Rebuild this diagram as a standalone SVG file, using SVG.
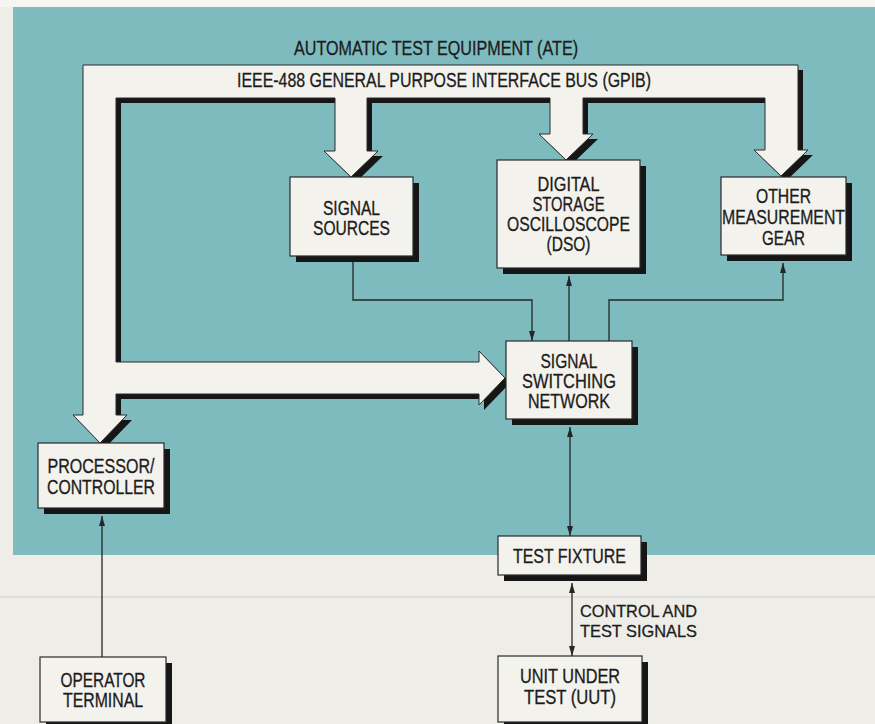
<svg xmlns="http://www.w3.org/2000/svg" width="875" height="724" viewBox="0 0 875 724">
<defs>
<style>
.page{fill:#efede8}
.teal{fill:#7ebbbf}
.shadow{fill:#161616}
.box{fill:#f3f2ed;stroke:#2a2a2a;stroke-width:1.2}
.bus{fill:#f3f2ed;stroke:#2a2a2a;stroke-width:1}
.t{font-family:"Liberation Sans Narrow","Liberation Sans",Arial,sans-serif;font-size:19.5px;fill:#1c1c1c;stroke:#1c1c1c;stroke-width:0.3;text-anchor:middle}
.big{font-size:20.5px}
.lbl{text-anchor:start;font-size:17px}
.wire{fill:none;stroke:#262626;stroke-width:1.3}
.rule{stroke:#d0cec9;stroke-width:1.2}
</style>
<marker id="ah" viewBox="0 0 10 6" refX="10" refY="3" markerWidth="10" markerHeight="6" markerUnits="userSpaceOnUse" orient="auto-start-reverse">
<path d="M0,0 L10,3 L0,6 z" fill="#262626"/>
</marker>
<path id="busShape" d="M83,65 H798 V150 H808 L781,176 L754,150 H765 V98 H583 V134 H593 L566,160 L539,134 H550 V98 H367 V151 H378 L351,177 L324,151 H335 V98 H116 V362 H479 V351 L505,378 L479,405 V394 H116 V415 H127 L100,443 L73,415 H83 Z"/>
</defs>

<rect class="page" x="0" y="0" width="875" height="724"/>
<rect x="0" y="0" width="875" height="7" fill="#f6f5f2"/>
<rect class="teal" x="13" y="7" width="862" height="548"/>
<line class="rule" x1="0" y1="597" x2="875" y2="597"/>

<g id="title">
<text class="t big" x="436" y="55" textLength="284" lengthAdjust="spacingAndGlyphs">AUTOMATIC TEST EQUIPMENT (ATE)</text>
</g>

<g id="connectors">
<g id="gpib-bus">
<use href="#busShape" class="shadow" transform="translate(5,5)"/>
<use href="#busShape" class="bus"/>
<text class="t big" x="444" y="87" textLength="414" lengthAdjust="spacingAndGlyphs">IEEE-488 GENERAL PURPOSE INTERFACE BUS (GPIB)</text>
</g>
<path class="wire" d="M353,262 V300 H532 V341" marker-end="url(#ah)"/>
<path class="wire" d="M569,341 V276" marker-end="url(#ah)"/>
<path class="wire" d="M609,341 V300 H783 V263" marker-end="url(#ah)"/>
<path class="wire" d="M570,427 V536" marker-start="url(#ah)" marker-end="url(#ah)"/>
<path class="wire" d="M572,583 V656" marker-start="url(#ah)" marker-end="url(#ah)"/>
<path class="wire" d="M102,657 V516" marker-end="url(#ah)"/>
<g id="label-control">
<text class="t lbl" x="580" y="617" textLength="117" lengthAdjust="spacingAndGlyphs">CONTROL AND</text>
<text class="t lbl" x="580" y="637" textLength="117" lengthAdjust="spacingAndGlyphs">TEST SIGNALS</text>
</g>
</g>

<g id="signal-sources">
<rect class="shadow" x="296" y="183" width="123" height="79"/>
<rect class="box" x="290" y="177" width="123" height="79"/>
<text class="t" x="351.5" y="215" textLength="57" lengthAdjust="spacingAndGlyphs">SIGNAL</text>
<text class="t" x="351.5" y="235" textLength="77" lengthAdjust="spacingAndGlyphs">SOURCES</text>
</g>

<g id="dso">
<rect class="shadow" x="503" y="166" width="143" height="108"/>
<rect class="box" x="497" y="160" width="143" height="108"/>
<text class="t" x="568.5" y="191" textLength="62" lengthAdjust="spacingAndGlyphs">DIGITAL</text>
<text class="t" x="568.5" y="211" textLength="72" lengthAdjust="spacingAndGlyphs">STORAGE</text>
<text class="t" x="568.5" y="231" textLength="123" lengthAdjust="spacingAndGlyphs">OSCILLOSCOPE</text>
<text class="t" x="568.5" y="251" textLength="44" lengthAdjust="spacingAndGlyphs">(DSO)</text>
</g>

<g id="other-gear">
<rect class="shadow" x="727" y="183" width="125" height="78"/>
<rect class="box" x="721" y="177" width="125" height="78"/>
<text class="t" x="783.5" y="203" textLength="55" lengthAdjust="spacingAndGlyphs">OTHER</text>
<text class="t" x="783.5" y="224" textLength="123" lengthAdjust="spacingAndGlyphs">MEASUREMENT</text>
<text class="t" x="783.5" y="245" textLength="43" lengthAdjust="spacingAndGlyphs">GEAR</text>
</g>

<g id="switching-network">
<rect class="shadow" x="512" y="347" width="126" height="78"/>
<rect class="box" x="506" y="341" width="126" height="78"/>
<text class="t" x="569" y="368" textLength="57" lengthAdjust="spacingAndGlyphs">SIGNAL</text>
<text class="t" x="569" y="388" textLength="94" lengthAdjust="spacingAndGlyphs">SWITCHING</text>
<text class="t" x="569" y="408" textLength="82" lengthAdjust="spacingAndGlyphs">NETWORK</text>
</g>

<g id="processor">
<rect class="shadow" x="44" y="449" width="126" height="65"/>
<rect class="box" x="38" y="443" width="126" height="65"/>
<text class="t" x="101" y="473" textLength="107" lengthAdjust="spacingAndGlyphs">PROCESSOR/</text>
<text class="t" x="101" y="494" textLength="108" lengthAdjust="spacingAndGlyphs">CONTROLLER</text>
</g>

<g id="test-fixture">
<rect class="shadow" x="504" y="542" width="143" height="39"/>
<rect class="box" x="498" y="536" width="143" height="39"/>
<text class="t" x="569.5" y="563" textLength="113" lengthAdjust="spacingAndGlyphs">TEST FIXTURE</text>
</g>

<g id="uut">
<rect class="shadow" x="504" y="662" width="144" height="66"/>
<rect class="box" x="498" y="656" width="144" height="66"/>
<text class="t" x="570" y="683" textLength="100" lengthAdjust="spacingAndGlyphs">UNIT UNDER</text>
<text class="t" x="570" y="704" textLength="92" lengthAdjust="spacingAndGlyphs">TEST (UUT)</text>
</g>

<g id="operator-terminal">
<rect class="shadow" x="46" y="663" width="126" height="65"/>
<rect class="box" x="40" y="657" width="126" height="65"/>
<text class="t" x="103" y="687" textLength="85" lengthAdjust="spacingAndGlyphs">OPERATOR</text>
<text class="t" x="103" y="707" textLength="80" lengthAdjust="spacingAndGlyphs">TERMINAL</text>
</g>
</svg>
